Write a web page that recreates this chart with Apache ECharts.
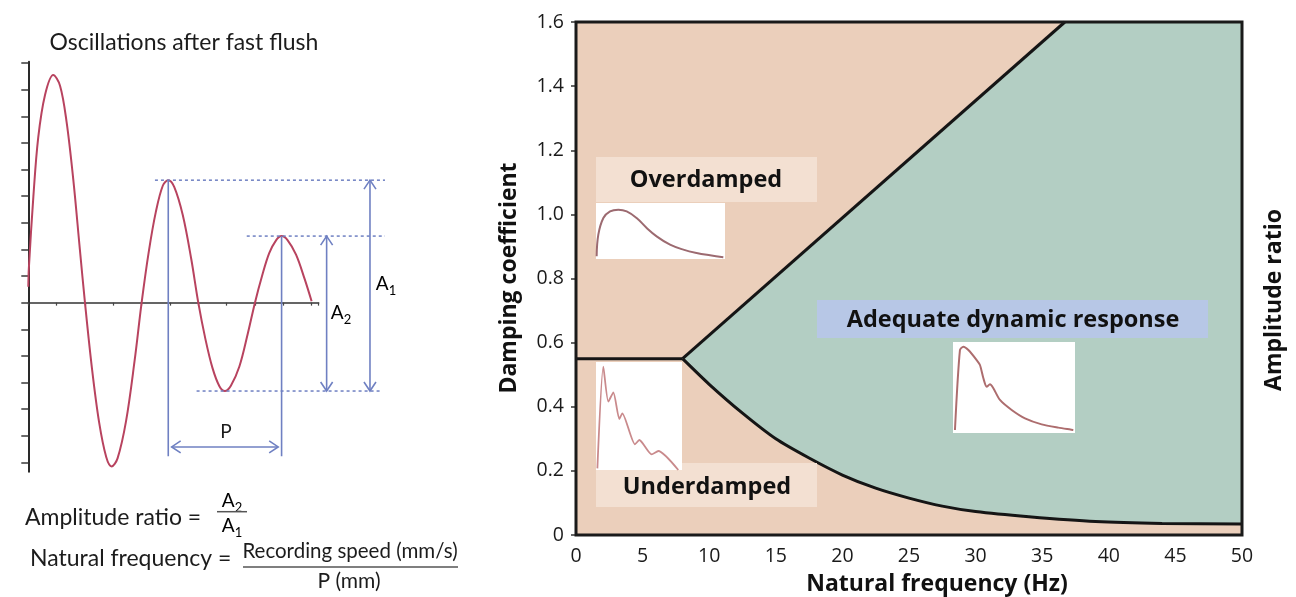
<!DOCTYPE html>
<html>
<head>
<meta charset="utf-8">
<script src="https://cdn.jsdelivr.net/npm/echarts@6/dist/echarts.min.js"></script>
<style>
  html, body { margin: 0; padding: 0; background: #ffffff; }
  #main { width: 1296px; height: 597px; }
</style>
</head>
<body>
<div id="main"></div>
<script>
// ---------- Left panel: pressure trace after a fast flush ----------
const waveX = [0, 0.02, 0.18, 0.35, 0.59, 0.88, 1.12, 1.35, 1.59, 1.82, 2.0,
  2.25, 2.5, 2.75, 2.94, 3.15, 3.45, 3.75, 4.0,
  4.25, 4.5, 4.75, 4.94, 5.15, 5.45, 5.75, 6.0,
  6.25, 6.5, 6.75, 6.94, 7.15, 7.45, 7.75, 8.0,
  8.25, 8.5, 8.75, 8.94, 9.15, 9.45, 9.75, 10.0];
const waveY = [0.6, 1.3, 4.0, 6.2, 7.8, 8.55, 8.15, 6.8, 4.6, 2.0, 0,
  -2.5, -4.5, -5.8, -6.15, -5.85, -4.45, -2.2, 0,
  1.9, 3.4, 4.4, 4.6, 4.35, 3.3, 1.65, 0,
  -1.36, -2.45, -3.15, -3.32, -3.12, -2.4, -1.15, 0,
  1.0, 1.85, 2.35, 2.5, 2.35, 1.8, 0.9, 0.05];
const waveTicksY = [-6, -5, -4, -3, -2, -1, 0, 1, 2, 3, 4, 5, 6, 7, 8, 9];

// peaks used for the period / amplitude construction
const peakA1X = 4.94;   // first measured peak
const troughX = 6.94;   // following trough
const peakA2X = 8.94;   // next peak
const guideStartX = [4.47, 7.71, 5.94];
const guideEndX = [12.59, 12.59, 12.47];
const periodFootY = -5.77;
const periodArrowY = -5.42;
const ampArrowX = [10.53, 12.06];

// ---------- Right panel: damping coefficient vs natural frequency ----------
const xTickLabels = ['0', '5', '10', '15', '20', '25', '30', '35', '40', '45', '50'];
const yTickLabels = ['0', '0.2', '0.4', '0.6', '0.8', '1.0', '1.2', '1.4', '1.6'];
const overLimitHz = [8, 36.7];
const overLimitZeta = [0.55, 1.6];
const underLimitHz = [0, 8];
const underLimitZeta = [0.55, 0.55];
const lowerLimitHz = [8, 10, 12.5, 15, 17.5, 20, 22.5, 25, 27.5, 30, 34, 39, 44, 50];
const lowerLimitZeta = [0.55, 0.47, 0.38, 0.30, 0.24, 0.187, 0.146, 0.115, 0.09, 0.073, 0.057, 0.042, 0.036, 0.034];

// sample waveforms in the three small insets (time, pressure; both 0..1)
const overT = [0.005, 0.018, 0.057, 0.109, 0.173, 0.238, 0.315, 0.393, 0.470, 0.574, 0.677, 0.780, 0.884, 0.987];
const overP = [0.05, 0.435, 0.732, 0.851, 0.881, 0.851, 0.732, 0.554, 0.405, 0.256, 0.167, 0.107, 0.065, 0.03];
const underT = [0.016, 0.085, 0.143, 0.202, 0.271, 0.306, 0.453, 0.504, 0.647, 0.725, 0.957];
const underP = [0.015, 0.957, 0.633, 0.719, 0.472, 0.525, 0.238, 0.278, 0.145, 0.176, 0.0];
const adeqT = [0.016, 0.057, 0.085, 0.126, 0.194, 0.221, 0.249, 0.276, 0.303, 0.331, 0.385, 0.481, 0.590, 0.727, 0.863, 0.986];
const adeqP = [0.033, 0.912, 0.949, 0.912, 0.802, 0.747, 0.601, 0.509, 0.535, 0.491, 0.363, 0.253, 0.161, 0.095, 0.059, 0.033];

// ---------- styling ----------
const LEFT_FONT = 'Lato, "Open Sans", sans-serif';
const RIGHT_FONT = '"Open Sans", "Noto Sans", sans-serif';
const BLUE = '#6f80c2';
const WAVE = '#b8435f';
const PEACH = '#ebcfbb';
const TEAL = '#b3cec3';
const INK = '#151515';
const TEXT_L = '#1c1c1c';

const zip = (a, b) => a.map((v, i) => [v, b[i]]);
const levelAt = x => waveY[waveX.indexOf(x)];

const L = { left: 28.3, top: 61.7, width: 290.4, height: 410 };
const R = { left: 576, top: 22, width: 666, height: 513 };
const INSET_OVER = { left: 596, top: 203, width: 129, height: 56 };
const INSET_UNDER = { left: 596, top: 362, width: 86, height: 108 };
const INSET_ADEQ = { left: 953, top: 342, width: 122, height: 91 };

// annotation segments for the left panel: [x1, y1, x2, y2, kind]
// kind 0 = dotted guide, 1 = solid marker, 2 = double-headed arrow
const pA1 = levelAt(peakA1X), pA2 = levelAt(peakA2X), tr = levelAt(troughX);
const annotations = [
  [guideStartX[0], pA1, guideEndX[0], pA1, 0],
  [guideStartX[1], pA2, guideEndX[1], pA2, 0],
  [guideStartX[2], tr, guideEndX[2], tr, 0],
  [peakA1X, pA1, peakA1X, periodFootY, 1],
  [peakA2X, pA2, peakA2X, periodFootY, 1],
  [peakA1X + 0.12, periodArrowY, peakA2X - 0.12, periodArrowY, 2],
  [ampArrowX[0], pA2, ampArrowX[0], tr, 2],
  [ampArrowX[1], pA1, ampArrowX[1], tr, 2]
];

function renderAnnotation(params, api) {
  const p1 = api.coord([api.value(0), api.value(1)]);
  const p2 = api.coord([api.value(2), api.value(3)]);
  const kind = api.value(4);
  const base = { stroke: BLUE, lineWidth: 1.6, fill: null };
  const line = {
    type: 'line',
    shape: { x1: p1[0], y1: p1[1], x2: p2[0], y2: p2[1] },
    style: kind === 0 ? Object.assign({}, base, { lineDash: [3, 3], lineWidth: 1.5 }) : base
  };
  if (kind !== 2) return line;
  const dx = p2[0] - p1[0], dy = p2[1] - p1[1];
  const len = Math.hypot(dx, dy);
  const ux = dx / len, uy = dy / len, nx = -uy, ny = ux;
  const hl = 9, hw = 6;
  const head = (p, s) => ({
    type: 'polyline',
    shape: { points: [
      [p[0] + s * ux * hl + nx * hw, p[1] + s * uy * hl + ny * hw],
      [p[0], p[1]],
      [p[0] + s * ux * hl - nx * hw, p[1] + s * uy * hl - ny * hw]
    ] },
    style: base
  });
  return { type: 'group', children: [line, head(p1, 1), head(p2, -1)] };
}

// teal "adequate" region: between the overdamped limit, the top edge and the lower limit
function renderAdequate(params, api) {
  const pts = [];
  lowerLimitHz.forEach((x, i) => pts.push(api.coord([x, lowerLimitZeta[i]])));
  pts.push(api.coord([50, 1.6]));
  pts.push(api.coord([overLimitHz[1], overLimitZeta[1]]));
  return { type: 'polygon', shape: { points: pts }, style: { fill: TEAL } };
}

const hiddenAxis = (gi) => ({
  gridIndex: gi, type: 'value', min: 0, max: 1, show: false
});

const sub = (t, d) => '{b|' + t + '}{s|' + d + '}';
const subRich = (size) => ({
  b: { fontFamily: LEFT_FONT, fontSize: size, color: TEXT_L, lineHeight: size + 6 },
  s: { fontFamily: LEFT_FONT, fontSize: Math.round(size * 0.68), color: TEXT_L, verticalAlign: 'bottom', lineHeight: size + 8 }
});

const chart = echarts.init(document.getElementById('main'));

chart.setOption({
  animation: false,
  backgroundColor: '#ffffff',
  grid: [
    Object.assign({ show: false }, L),
    Object.assign({ show: true, backgroundColor: PEACH, borderWidth: 0 }, R),
    Object.assign({ show: false }, INSET_OVER),
    Object.assign({ show: false }, INSET_UNDER),
    Object.assign({ show: false }, INSET_ADEQ)
  ],
  xAxis: [
    {
      gridIndex: 0, type: 'value', min: 0, max: 10.25, interval: 1,
      axisLine: { onZero: true, lineStyle: { color: '#333', width: 1.5 } },
      axisTick: { show: true, length: 3, lineStyle: { color: '#444', width: 1.2 } },
      axisLabel: { show: false }, splitLine: { show: false }
    },
    {
      gridIndex: 1, type: 'value', min: 0, max: 50, interval: 5,
      axisLine: { show: false }, axisTick: { show: false }, splitLine: { show: false },
      axisLabel: {
        margin: 11, fontSize: 19.5, color: '#1a1a1a', fontFamily: RIGHT_FONT,
        formatter: v => xTickLabels[Math.round(v / 5)]
      }
    },
    hiddenAxis(2), hiddenAxis(3), hiddenAxis(4)
  ],
  yAxis: [
    {
      gridIndex: 0, type: 'value', min: -6.35, max: 9.05,
      axisLine: { show: true, onZero: false, lineStyle: { color: '#2a2a2a', width: 2 } },
      axisTick: { show: true, length: 7, customValues: waveTicksY, lineStyle: { color: '#3a3a3a', width: 1.5 } },
      axisLabel: { show: false, customValues: waveTicksY }, splitLine: { show: false }
    },
    {
      gridIndex: 1, type: 'value', min: 0, max: 1.6, interval: 0.2, offset: 3,
      axisLine: { show: false },
      axisTick: { show: true, length: 5, lineStyle: { color: '#333', width: 1.5 } },
      splitLine: { show: false },
      axisLabel: {
        margin: 9, fontSize: 19.5, color: '#1a1a1a', fontFamily: RIGHT_FONT,
        formatter: v => yTickLabels[Math.round(v / 0.2)]
      }
    },
    hiddenAxis(2), hiddenAxis(3), hiddenAxis(4)
  ],
  series: [
    {
      type: 'line', xAxisIndex: 0, yAxisIndex: 0, data: zip(waveX, waveY),
      showSymbol: false, smooth: 0.35, clip: false, z: 3,
      lineStyle: { color: WAVE, width: 2 }
    },
    {
      type: 'custom', xAxisIndex: 0, yAxisIndex: 0, data: annotations,
      renderItem: renderAnnotation, clip: false, z: 4,
      encode: { x: [0, 2], y: [1, 3] }
    },
    {
      type: 'custom', xAxisIndex: 1, yAxisIndex: 1, data: [[25, 0.8]],
      renderItem: renderAdequate, clip: true, z: 2, silent: true
    },
    {
      type: 'line', xAxisIndex: 1, yAxisIndex: 1, data: zip(overLimitHz, overLimitZeta),
      showSymbol: false, z: 5, lineStyle: { color: INK, width: 3 }
    },
    {
      type: 'line', xAxisIndex: 1, yAxisIndex: 1, data: zip(underLimitHz, underLimitZeta),
      showSymbol: false, z: 5, lineStyle: { color: INK, width: 3 }
    },
    {
      type: 'line', xAxisIndex: 1, yAxisIndex: 1, data: zip(lowerLimitHz, lowerLimitZeta),
      showSymbol: false, smooth: 0.25, z: 5, lineStyle: { color: INK, width: 3 }
    },
    {
      type: 'line', xAxisIndex: 2, yAxisIndex: 2, data: zip(overT, overP),
      showSymbol: false, smooth: 0.4, z: 13, lineStyle: { color: '#9c6a70', width: 2 }
    },
    {
      type: 'line', xAxisIndex: 3, yAxisIndex: 3, data: zip(underT, underP),
      showSymbol: false, smooth: 0.2, z: 13, lineStyle: { color: '#c98a8c', width: 1.8 }
    },
    {
      type: 'line', xAxisIndex: 4, yAxisIndex: 4, data: zip(adeqT, adeqP),
      showSymbol: false, smooth: 0.25, z: 13, lineStyle: { color: '#ad6d6e', width: 2 }
    }
  ],
  graphic: [
    // left panel texts
    { type: 'text', x: 184, y: 43, z: 11, style: { text: 'Oscillations after fast flush', font: '23px ' + LEFT_FONT, fill: TEXT_L, align: 'center', verticalAlign: 'middle' } },
    { type: 'text', x: 226, y: 432, z: 11, style: { text: 'P', font: '19px ' + LEFT_FONT, fill: TEXT_L, align: 'center', verticalAlign: 'middle' } },
    { type: 'text', x: 341, y: 313, z: 11, style: { text: sub('A', '2'), rich: subRich(19), align: 'center', verticalAlign: 'middle' } },
    { type: 'text', x: 386, y: 284, z: 11, style: { text: sub('A', '1'), rich: subRich(19), align: 'center', verticalAlign: 'middle' } },
    { type: 'text', x: 25, y: 518, z: 11, style: { text: 'Amplitude ratio =', font: '23px ' + LEFT_FONT, fill: TEXT_L, align: 'left', verticalAlign: 'middle' } },
    { type: 'text', x: 232, y: 501, z: 11, style: { text: sub('A', '2'), rich: subRich(19), align: 'center', verticalAlign: 'middle' } },
    { type: 'line', z: 11, shape: { x1: 217, y1: 511.7, x2: 247, y2: 511.7 }, style: { stroke: '#555', lineWidth: 1.5 } },
    { type: 'text', x: 232, y: 526, z: 11, style: { text: sub('A', '1'), rich: subRich(19), align: 'center', verticalAlign: 'middle' } },
    { type: 'text', x: 30, y: 559, z: 11, style: { text: 'Natural frequency =', font: '23px ' + LEFT_FONT, fill: TEXT_L, align: 'left', verticalAlign: 'middle' } },
    { type: 'text', x: 350, y: 551, z: 11, style: { text: 'Recording speed (mm/s)', font: '20.5px ' + LEFT_FONT, fill: TEXT_L, align: 'center', verticalAlign: 'middle' } },
    { type: 'line', z: 11, shape: { x1: 243, y1: 567, x2: 458, y2: 567 }, style: { stroke: '#555', lineWidth: 1.5 } },
    { type: 'text', x: 349, y: 581, z: 11, style: { text: 'P (mm)', font: '21px ' + LEFT_FONT, fill: TEXT_L, align: 'center', verticalAlign: 'middle' } },

    // right panel axis titles
    { type: 'text', x: 937, y: 584, z: 11, style: { text: 'Natural frequency (Hz)', font: 'bold 23px ' + RIGHT_FONT, fill: '#111', align: 'center', verticalAlign: 'middle' } },
    { type: 'text', x: 509, y: 278, rotation: Math.PI / 2, z: 11, style: { text: 'Damping coefficient', font: 'bold 23px ' + RIGHT_FONT, fill: '#111', align: 'center', verticalAlign: 'middle' } },
    { type: 'text', x: 1274, y: 300, rotation: Math.PI / 2, z: 11, style: { text: 'Amplitude ratio', font: 'bold 23px ' + RIGHT_FONT, fill: '#111', align: 'center', verticalAlign: 'middle' } },

    // region labels
    { type: 'rect', z: 10, shape: { x: 596, y: 157, width: 221, height: 45 }, style: { fill: '#f3e0d2' } },
    { type: 'text', x: 706, y: 180, z: 11, style: { text: 'Overdamped', font: 'bold 23.5px ' + RIGHT_FONT, fill: '#111', align: 'center', verticalAlign: 'middle' } },
    { type: 'rect', z: 10, shape: { x: 596, y: 463, width: 221, height: 44 }, style: { fill: '#f3e0d2' } },
    { type: 'text', x: 707, y: 487, z: 11, style: { text: 'Underdamped', font: 'bold 23.5px ' + RIGHT_FONT, fill: '#111', align: 'center', verticalAlign: 'middle' } },
    { type: 'rect', z: 10, shape: { x: 817, y: 300, width: 391, height: 38 }, style: { fill: '#b7c7e6' } },
    { type: 'text', x: 1013, y: 320, z: 11, style: { text: 'Adequate dynamic response', font: 'bold 23.5px ' + RIGHT_FONT, fill: '#111', align: 'center', verticalAlign: 'middle' } },

    // inset backgrounds
    { type: 'rect', z: 12, shape: { x: INSET_OVER.left, y: INSET_OVER.top, width: INSET_OVER.width, height: INSET_OVER.height }, style: { fill: '#ffffff' } },
    { type: 'rect', z: 12, shape: { x: INSET_UNDER.left, y: INSET_UNDER.top, width: INSET_UNDER.width, height: INSET_UNDER.height }, style: { fill: '#ffffff' } },
    { type: 'rect', z: 12, shape: { x: INSET_ADEQ.left, y: INSET_ADEQ.top, width: INSET_ADEQ.width, height: INSET_ADEQ.height }, style: { fill: '#ffffff' } },

    // plot frame
    { type: 'rect', z: 20, shape: { x: R.left, y: R.top, width: R.width, height: R.height }, style: { fill: null, stroke: '#1a1a1a', lineWidth: 3 } }
  ]
});
</script>
</body>
</html>
